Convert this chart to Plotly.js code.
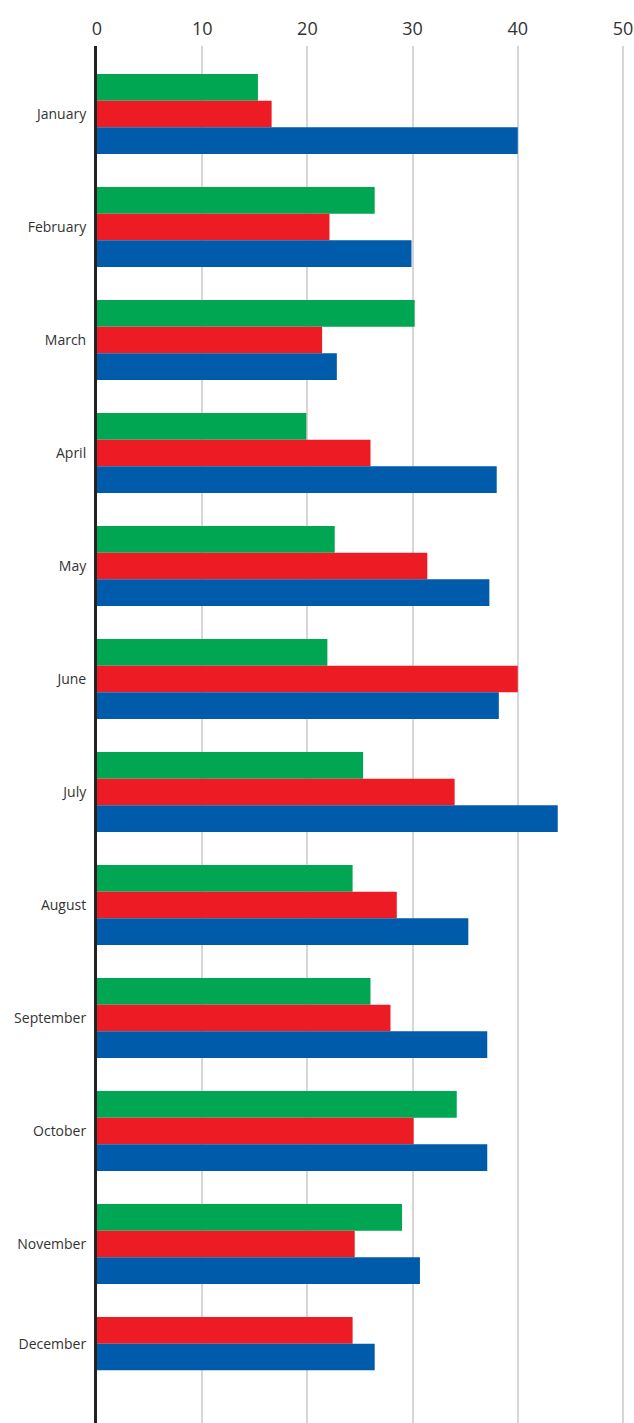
<!DOCTYPE html>
<html>
<head>
<meta charset="utf-8">
<script src="https://cdn.plot.ly/plotly-3.0.1.min.js"></script>
<style>html,body{margin:0;padding:0;background:#fff;}#chart{width:634px;height:1423px;}</style>
</head>
<body>
<div id="chart"></div>
<script>
const months = ["January","February","March","April","May","June","July","August","September","October","November","December"];
const greenValues = [15.3, 26.4, 30.2, 19.9, 22.6, 21.9, 25.3, 24.3, 26.0, 34.2, 29.0, null];
const redValues   = [16.6, 22.1, 21.4, 26.0, 31.4, 40.0, 34.0, 28.5, 27.9, 30.1, 24.5, 24.3];
const blueValues  = [40.0, 29.9, 22.8, 38.0, 37.3, 38.2, 43.8, 35.3, 37.1, 37.1, 30.7, 26.4];
const xTicks = [0, 10, 20, 30, 40, 50];

const seriesList = [
  {values: greenValues, color: "#00a651"},
  {values: redValues,   color: "#ed1c24"},
  {values: blueValues,  color: "#005baa"}
];

const W = 0.236; // bar thickness in category units
// bars of a month are placed one after another from the top of its slot; missing ones are skipped
const slotCount = months.map((m, i) => seriesList.filter(s => s.values[i] !== null).length);
const traces = seriesList.map(s => ({x: [], y: [], offset: [], width: [], color: s.color}));
months.forEach((m, i) => {
  let k = 0;
  seriesList.forEach((s, si) => {
    const v = s.values[i];
    if (v === null) return;
    const t = traces[si];
    t.x.push(v); t.y.push(i); t.offset.push(-1.5 * W + k * W); t.width.push(W);
    k++;
  });
});
const tickPos = months.map((m, i) => i - 1.5 * W + slotCount[i] * W / 2);

const data = traces.map(t => ({
  type: "bar", orientation: "h",
  x: t.x, y: t.y, offset: t.offset, width: t.width, base: 0,
  marker: {color: t.color, line: {width: 0}},
  hoverinfo: "skip"
}));

const layout = {
  width: 634, height: 1423,
  margin: {l: 97, r: 0, t: 46, b: 0, pad: 0},
  paper_bgcolor: "#fff", plot_bgcolor: "#fff",
  barmode: "overlay",
  showlegend: false,
  font: {family: "Open Sans, sans-serif", color: "#333"},
  xaxis: {
    side: "top", range: [0, 51.05],
    tickvals: xTicks, ticktext: xTicks.map(String),
    showgrid: true, gridcolor: "#d6d6d6", gridwidth: 2,
    zeroline: false, showline: false, ticks: "",
    ticklabelstandoff: 6, ticklabeloverflow: "allow",
    tickfont: {family: "Open Sans, sans-serif", size: 18, color: "#333"},
    fixedrange: true
  },
  yaxis: {
    range: [11.584, -0.602],
    tickvals: tickPos, ticktext: months,
    showgrid: false, zeroline: false,
    showline: true, linecolor: "#222", linewidth: 3,
    ticks: "", ticklabelstandoff: 5,
    tickfont: {family: "Open Sans, sans-serif", size: 14, color: "#333"},
    fixedrange: true
  }
};

Plotly.newPlot("chart", data, layout, {displayModeBar: false, staticPlot: true});
</script>
</body>
</html>
